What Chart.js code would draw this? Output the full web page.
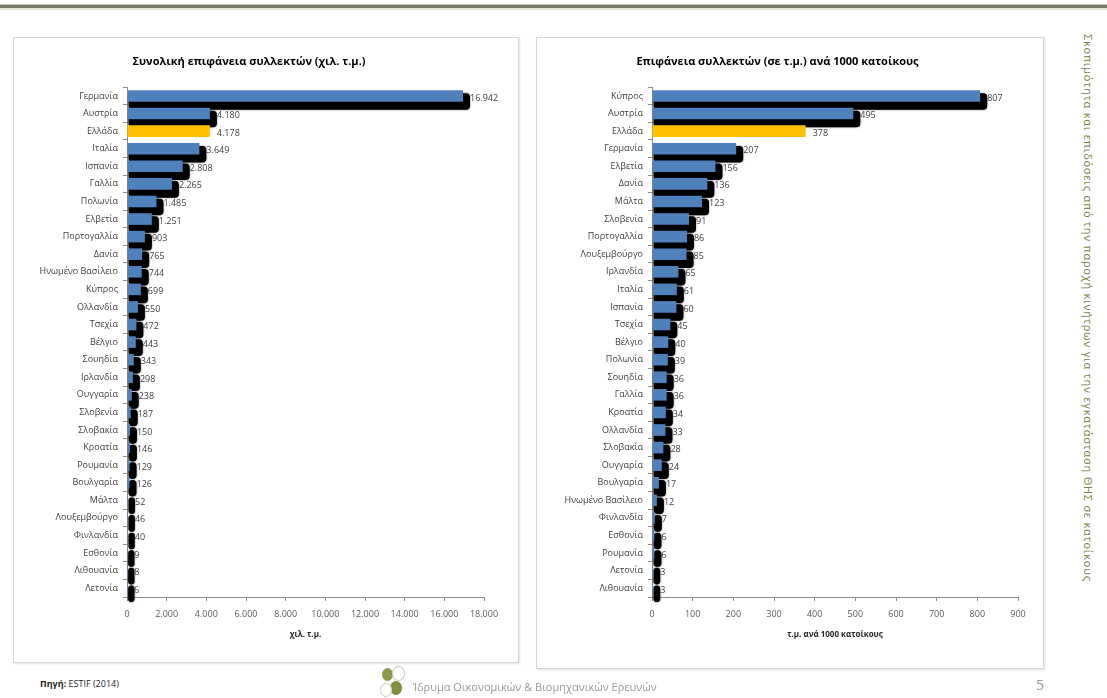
<!DOCTYPE html>
<html lang="el">
<head>
<meta charset="utf-8">
<title>Επιφάνεια ηλιακών συλλεκτών</title>
<script src="https://cdn.jsdelivr.net/npm/chart.js@4.4.1/dist/chart.umd.min.js"></script>
<style>
  html, body { margin: 0; padding: 0; background: #fff; }
  body { width: 1107px; height: 698px; position: relative; overflow: hidden; font-family: 'Open Sans', sans-serif; }
  .topline { position: absolute; left: 0; top: 4px; width: 1107px; height: 3px; background: #767a66; border-top: 1px solid #c6c8b4; border-bottom: 2px solid #e4e5d2; }
  .panel { position: absolute; background: #fff; border: 1px solid #d6d6d6; box-shadow: 1px 1px 2px rgba(0,0,0,0.12); }
  #panelLeft { left: 13px; top: 37px; width: 504px; height: 624px; }
  #panelRight { left: 536px; top: 37px; width: 506px; height: 630px; }
  .panel canvas { display: block; }
  .side { position: absolute; left: 1081px; top: 34px; writing-mode: vertical-rl; font-size: 11px; letter-spacing: 0.75px; color: #6f7f3c; white-space: nowrap; }
  .source { position: absolute; left: 40px; top: 677px; font-size: 9px; color: #262626; }
  .source b { font-weight: 700; }
  .logo { position: absolute; left: 378px; top: 664px; width: 30px; height: 34px; }
  .logo span { position: absolute; border-radius: 50%; }
  .inst { position: absolute; left: 413px; top: 679px; font-size: 11px; color: #999; }
  .page { position: absolute; left: 1036px; top: 675px; font-size: 14px; color: #999; }
</style>
</head>
<body>
<div class="topline"></div>

<div class="panel" id="panelLeft"><div style="position:relative;width:504px;height:624px"><canvas id="chartTotal"></canvas></div></div>
<div class="panel" id="panelRight"><div style="position:relative;width:506px;height:630px"><canvas id="chartPerCapita"></canvas></div></div>

<div class="side">Σκοπιμότητα και επιδόσεις από την παροχή κινήτρων για την εγκατάσταση ΘΗΣ σε κατοίκους</div>

<div class="source"><b>Πηγή:</b> ESTIF (2014)</div>
<div class="logo">
  <span style="left:4px;top:4px;width:11px;height:13px;background:#8c9a46"></span>
  <span style="left:14px;top:2px;width:11px;height:13px;border:1px solid #c7c9c0;background:#fff"></span>
  <span style="left:12px;top:17px;width:12px;height:14px;background:#7e8f3a"></span>
  <span style="left:2px;top:19px;width:10px;height:12px;border:1px solid #d0d2c6;background:#fff"></span>
</div>
<div class="inst">Ίδρυμα Οικονομικών &amp; Βιομηχανικών Ερευνών</div>
<div class="page">5</div>

<script>
  var totalCountries = ['Γερμανία', 'Αυστρία', 'Ελλάδα', 'Ιταλία', 'Ισπανία', 'Γαλλία', 'Πολωνία', 'Ελβετία',
    'Πορτογαλλία', 'Δανία', 'Ηνωμένο Βασίλειο', 'Κύπρος', 'Ολλανδία', 'Τσεχία', 'Βέλγιο', 'Σουηδία',
    'Ιρλανδία', 'Ουγγαρία', 'Σλοβενία', 'Σλοβακία', 'Κροατία', 'Ρουμανία', 'Βουλγαρία', 'Μάλτα',
    'Λουξεμβούργο', 'Φινλανδία', 'Εσθονία', 'Λιθουανία', 'Λετονία'];
  var totalValues = [16942, 4180, 4178, 3649, 2808, 2265, 1485, 1251, 903, 765, 744, 699, 550, 472, 443, 343,
    298, 238, 187, 150, 146, 129, 126, 52, 46, 40, 9, 8, 6];
  var totalTicks = [0, 2000, 4000, 6000, 8000, 10000, 12000, 14000, 16000, 18000];

  var perCapitaCountries = ['Κύπρος', 'Αυστρία', 'Ελλάδα', 'Γερμανία', 'Ελβετία', 'Δανία', 'Μάλτα', 'Σλοβενία',
    'Πορτογαλλία', 'Λουξεμβούργο', 'Ιρλανδία', 'Ιταλία', 'Ισπανία', 'Τσεχία', 'Βέλγιο', 'Πολωνία',
    'Σουηδία', 'Γαλλία', 'Κροατία', 'Ολλανδία', 'Σλοβακία', 'Ουγγαρία', 'Βουλγαρία', 'Ηνωμένο Βασίλειο',
    'Φινλανδία', 'Εσθονία', 'Ρουμανία', 'Λετονία', 'Λιθουανία'];
  var perCapitaValues = [807, 495, 378, 207, 156, 136, 123, 91, 86, 85, 65, 61, 60, 45, 40, 39,
    36, 36, 34, 33, 28, 24, 17, 12, 7, 6, 6, 3, 3];
  var perCapitaTicks = [0, 100, 200, 300, 400, 500, 600, 700, 800, 900];

  var highlight = 'Ελλάδα';

  var colors = {
    bar: '#4f81bd',
    greece: '#ffc000',
    shadow: '#000',
    axis: '#8c8c8c',
    text: '#404040',
    tick: '#595959'
  };

  function fmt(n) {
    return String(n).replace(/\B(?=(\d{3})+(?!\d))/g, '.');
  }

  // heavy black drop shadow behind the blue bars (Excel "shadow" effect)
  var barShadow = {
    id: 'barShadow',
    beforeDatasetsDraw: function(chart) {
      var ctx = chart.ctx;
      ctx.save();
      ctx.fillStyle = colors.shadow;
      ctx.shadowColor = 'rgba(0,0,0,0.6)';
      ctx.shadowBlur = 2;
      chart.getDatasetMeta(0).data.forEach(function(bar, j) {
        if (chart.data.datasets[0].data[j] == null) return;
        var p = bar.getProps(['x', 'y', 'base', 'height'], true);
        var left = Math.min(p.x, p.base) + 1;
        var right = Math.max(p.x, p.base) + 7;
        var top = p.y - p.height / 2 + 3;
        var bottom = p.y + p.height / 2 + 8;
        ctx.beginPath();
        ctx.roundRect(left, top, right - left, bottom - top, 4);
        ctx.fill();
      });
      ctx.restore();
    }
  };

  var valueLabels = {
    id: 'valueLabels',
    afterDatasetsDraw: function(chart) {
      var ctx = chart.ctx;
      ctx.save();
      ctx.font = "9px 'Open Sans'";
      ctx.fillStyle = colors.text;
      ctx.textBaseline = 'middle';
      ctx.textAlign = 'left';
      chart.data.datasets.forEach(function(ds, i) {
        chart.getDatasetMeta(i).data.forEach(function(bar, j) {
          var v = ds.data[j];
          if (v == null) return;
          ctx.fillText(fmt(v), bar.x + 7, bar.y + 2);
        });
      });
      ctx.restore();
    }
  };

  function makeChart(canvasId, countries, values, ticks, title, axisTitle, yWidth, padRight, padBottom) {
    var blue = values.map(function(v, i) { return countries[i] === highlight ? null : v; });
    var yellow = values.map(function(v, i) { return countries[i] === highlight ? v : null; });

    return new Chart(document.getElementById(canvasId), {
      type: 'bar',
      data: {
        labels: countries,
        datasets: [
          { data: blue, backgroundColor: colors.bar, borderWidth: 0, grouped: false, clip: false,
            barPercentage: 0.66, categoryPercentage: 1 },
          { data: yellow, backgroundColor: colors.greece, borderWidth: 0, grouped: false, clip: false,
            barPercentage: 0.66, categoryPercentage: 1 }
        ]
      },
      options: {
        indexAxis: 'y',
        responsive: true,
        maintainAspectRatio: false,
        animation: false,
        events: [],
        layout: { padding: { left: 0, right: padRight, top: 0, bottom: padBottom } },
        scales: {
          x: {
            type: 'linear',
            min: 0,
            max: ticks[ticks.length - 1],
            afterBuildTicks: function(scale) {
              scale.ticks = ticks.map(function(v) { return { value: v }; });
            },
            afterFit: function(scale) { scale.height = 43; },
            ticks: {
              font: { family: "'Open Sans'", size: 9 },
              color: colors.tick,
              padding: 8,
              maxRotation: 0,
              autoSkip: false,
              callback: function(v) { return fmt(v); }
            },
            grid: { display: true, drawOnChartArea: false, drawTicks: true, tickLength: 4, color: colors.axis },
            border: { display: true, color: colors.axis },
            title: {
              display: true,
              text: axisTitle,
              color: '#262626',
              font: { family: "'Open Sans'", size: 8, weight: 'bold' },
              padding: { top: 6, bottom: 0 }
            }
          },
          y: {
            type: 'category',
            afterFit: function(scale) { scale.width = yWidth; },
            ticks: {
              font: { family: "'Open Sans'", size: 9 },
              color: colors.text,
              padding: 5,
              autoSkip: false
            },
            grid: { display: true, drawOnChartArea: false, tickLength: 4, color: colors.axis, offset: true },
            border: { display: true, color: colors.axis }
          }
        },
        plugins: {
          legend: { display: false },
          tooltip: { enabled: false },
          title: {
            display: true,
            text: title,
            color: '#000',
            font: { family: "'Open Sans'", size: 11, weight: 'bold' },
            padding: { top: 17, bottom: 19 }
          }
        }
      },
      plugins: [barShadow, valueLabels]
    });
  }

  makeChart('chartTotal', totalCountries, totalValues, totalTicks,
    'Συνολική επιφάνεια συλλεκτών (χιλ. τ.μ.)', 'χιλ. τ.μ.', 113, 34, 22);
  makeChart('chartPerCapita', perCapitaCountries, perCapitaValues, perCapitaTicks,
    'Επιφάνεια συλλεκτών (σε τ.μ.) ανά 1000 κατοίκους', 'τ.μ. ανά 1000 κατοίκους', 115, 25, 28);
</script>
</body>
</html>
